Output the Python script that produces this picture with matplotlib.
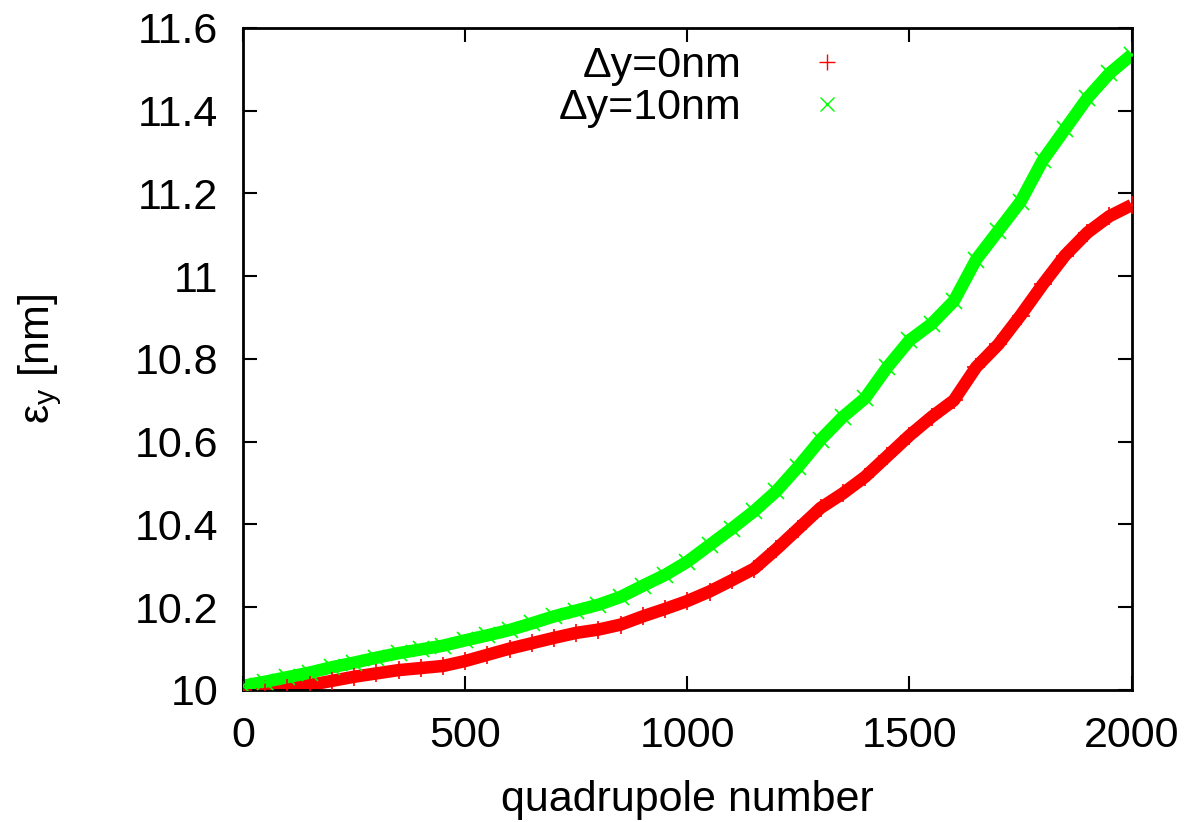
import matplotlib
matplotlib.use("Agg")
import matplotlib.pyplot as plt
from matplotlib.lines import Line2D

quad = [0, 50, 100, 150, 200, 250, 300, 350, 400, 450,
        500, 550, 600, 650, 700, 750, 800, 850, 900, 950,
        1000, 1050, 1100, 1150, 1200, 1250, 1300, 1350, 1400, 1450,
        1500, 1550, 1600, 1650, 1700, 1750, 1800, 1850, 1900, 1950, 2000]

# vertical emittance [nm], offset 0 nm
eps_0nm = [10.000, 10.002, 10.005, 10.012, 10.022, 10.032, 10.040, 10.048, 10.053, 10.058,
           10.070, 10.085, 10.100, 10.113, 10.126, 10.138, 10.146, 10.158, 10.178, 10.196,
           10.215, 10.238, 10.265, 10.293, 10.340, 10.390, 10.440, 10.475, 10.515, 10.565,
           10.615, 10.660, 10.700, 10.780, 10.835, 10.905, 10.980, 11.050, 11.105, 11.145, 11.172]

# vertical emittance [nm], offset 10 nm
eps_10nm = [10.010, 10.020, 10.031, 10.042, 10.055, 10.066, 10.078, 10.089, 10.098, 10.107,
            10.120, 10.132, 10.145, 10.161, 10.178, 10.192, 10.206, 10.225, 10.252, 10.278,
            10.310, 10.350, 10.390, 10.432, 10.480, 10.540, 10.605, 10.660, 10.705, 10.780,
            10.845, 10.885, 10.940, 11.040, 11.110, 11.180, 11.280, 11.355, 11.430, 11.490, 11.535]

labels = ["\u0394y=0nm", "\u0394y=10nm"]
xticks = [0, 500, 1000, 1500, 2000]
yticks = [10, 10.2, 10.4, 10.6, 10.8, 11, 11.2, 11.4, 11.6]
yticklabels = ["10", "10.2", "10.4", "10.6", "10.8", "11", "11.2", "11.4", "11.6"]

plt.rcParams["font.family"] = ["Liberation Sans", "DejaVu Sans"]
fs = 31

fig = plt.figure(figsize=(12, 8.22), dpi=100)
ax = fig.add_axes([0.2025, 0.1606, 0.7405, 0.8054])

red = "#ff0000"
green = "#00ff00"

# dense band of points, drawn as a thick stroke with markers on top
ax.plot(quad, eps_0nm, color=red, lw=9, solid_capstyle="butt", zorder=2)
ax.plot(quad, eps_0nm, ls="none", marker="+", ms=13, mew=1.2, color=red, zorder=3)
ax.plot(quad, eps_10nm, color=green, lw=9, solid_capstyle="butt", zorder=2)
ax.plot(quad, eps_10nm, ls="none", marker="x", ms=11, mew=1.2, color=green, zorder=3)

ax.set_xlim(0, 2000)
ax.set_ylim(10, 11.6)
ax.set_xticks(xticks)
ax.set_yticks(yticks)
ax.set_yticklabels(yticklabels)
ax.tick_params(direction="in", length=10, width=1.5, top=True, right=True,
               labelsize=fs)
ax.tick_params(axis="x", pad=19)
ax.tick_params(axis="y", pad=18)
for s in ax.spines.values():
    s.set_linewidth(2)

ax.set_xlabel("quadrupole number", fontsize=fs, labelpad=17)
ax.set_ylabel(r"$\mathregular{\varepsilon_y}$ [nm]", fontsize=fs, labelpad=51)

handles = [Line2D([], [], ls="none", marker="+", ms=12, mew=1, color=red),
           Line2D([], [], ls="none", marker="x", ms=10, mew=1, color=green)]
ax.legend(handles, labels, loc="upper right", bbox_to_anchor=(0.715, 1.018),
          frameon=False, markerfirst=False, fontsize=fs, handlelength=1.0,
          handletextpad=1.48, labelspacing=0.05, borderpad=0.2)

fig.savefig("out.png", dpi=100)
